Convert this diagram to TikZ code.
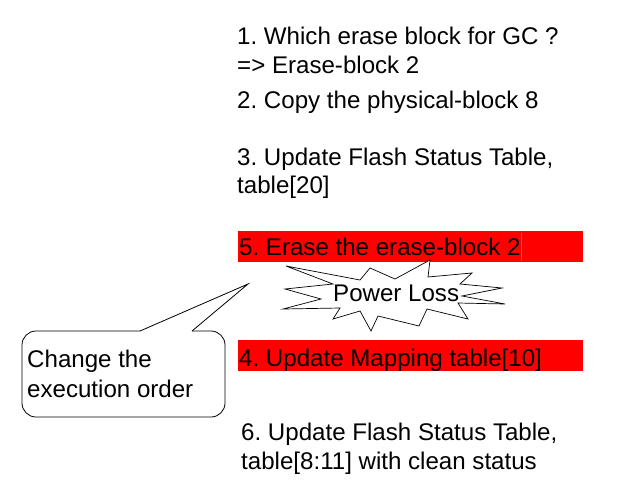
\documentclass[tikz,border=0pt]{standalone}
\usepackage{fontspec}
\setmainfont{Liberation Sans}
\frenchspacing
\begin{document}
\begin{tikzpicture}[x=1pt,y=-1pt,
  txt/.style={anchor=base west, inner sep=0pt, font=\fontsize{24.1}{29}\selectfont\frenchspacing, align=left},
  redbar/.style={anchor=north west, fill=red, draw=none, inner sep=0pt, minimum width=345pt, minimum height=31pt},
  outline/.style={draw=black, line width=0.8pt, line join=miter}]
\useasboundingbox (0,0) rectangle (618,498);
% top steps
\node[txt] (s1) at (237,44) {1. Which erase block for GC ?};
\node[txt] (s1b) at (237,73) {=> Erase-block 2};
\node[txt] (s2) at (237,108) {2. Copy the physical-block 8};
\node[txt] (s3) at (237,165) {3. Update Flash Status Table,};
\node[txt] (s3b) at (237,193) {table[20]};
% red bars
\node[redbar] (bar5) at (238,231) {};
\node[txt] (s5) at (239,255) {5. Erase the erase-block 2};
\draw[gray, line width=0.6pt] (521.5,233) -- (521.5,261);
\node[redbar] (bar4) at (238,339.5) {};
\node[txt] (s4) at (239,366.5) {4. Update Mapping table[10]};
% power loss star
\filldraw[outline, fill=white, line width=0.7pt]
  (286,266) -- (360,280) -- (370,268) -- (395,279) -- (430,260) -- (428,277)
  -- (472,273) -- (460,284) -- (502,288) -- (462,296) -- (505,304) -- (458,303)
  -- (468,319) -- (427,309) -- (419,326) -- (378,316) -- (371,331) -- (360,311)
  -- (333,319) -- (340,308) -- (283,309) -- (321,299) -- (285,289) -- (333,284) -- cycle;
\node[txt] (pl) at (333,301.5) {Power Loss};
% step 6
\node[txt] (s6) at (241,440) {6. Update Flash Status Table,};
\node[txt] (s6b) at (241,469) {table[8:11] with clean status};
% callout
\draw[outline, rounded corners=14pt] (192,331) -- (225,331) -- (225,417) -- (22,417) -- (22,331) -- (140,331);
\draw[outline] (140,331) -- (248,284) -- (192,331);
\node[txt] (c1) at (27,367) {Change the};
\node[txt] (c2) at (27,397) {execution order};
\end{tikzpicture}
\end{document}
